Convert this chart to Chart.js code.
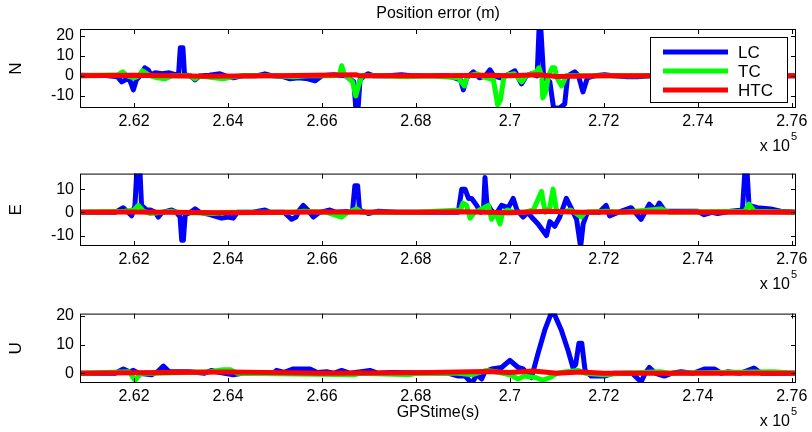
<!DOCTYPE html>
<html>
<head>
<meta charset="utf-8">
<script src="https://cdn.jsdelivr.net/npm/chart.js@4.4.1/dist/chart.umd.min.js"></script>
<style>
body { margin: 0; background: #fff; }
#wrap { position: relative; width: 812px; height: 432px; }
canvas { position: absolute; left: 0; }
</style>
</head>
<body>
<div id="wrap">
<canvas id="chartN" width="812" height="158" style="top:0px"></canvas>
<canvas id="chartE" width="812" height="140" style="top:158px"></canvas>
<canvas id="chartU" width="812" height="134" style="top:298px"></canvas>
</div>
<script>
// GPS time (s) / error (m) pairs
var seriesNames = ["LC", "TC", "HTC"];
var seriesColors = ["#0000ff", "#00ff00", "#ff0000"];
var xTicks = [262000, 264000, 266000, 268000, 270000, 272000, 274000, 276000];
var nTicks = [-10, 0, 10, 20];
var eTicks = [-10, 0, 10];
var uTicks = [0, 10, 20];

var nLC = [[260850,0.3],[261400,0.2],[261650,-0.5],[261738,-3],[261820,-2],[261900,-1.5],[261986,-7],[262050,-2],[262150,0.5],[262230,4],[262300,3],[262360,0.5],[262450,1.5],[262600,1],[262750,1.5],[262900,0.5],[262950,1.5],[262985,14],[263040,14],[263075,0.5],[263200,0],[263298,-2],[263400,0],[263600,0.3],[263830,1],[263950,0],[264113,-1],[264300,0],[264600,0],[264787,1],[264950,0],[265150,-0.3],[265319,-1.5],[265500,-1],[265700,-1.5],[265851,-2.5],[266000,0],[266250,0.5],[266500,0],[266680,-3],[266720,-16],[266770,-16],[266810,-2],[266900,0],[266985,1],[267100,0],[267400,0],[267695,0.5],[267900,0],[268700,0],[268950,-2],[269010,-7],[269080,-1],[269222,2],[269350,-1],[269480,0],[269576,3],[269660,0],[269800,-1],[269950,0.5],[270106,2.5],[270247,-4],[270350,0],[270460,1],[270580,0],[270620,23],[270660,23],[270720,-1],[270850,-3],[270930,-16],[271061,-16],[271167,-14],[271230,0],[271379,2],[271460,0],[271555,-8],[271650,-1],[271800,0],[272015,0.5],[272200,0],[272500,-0.5],[272722,-0.5],[273000,0],[274000,0],[276090,0]];
var nTC = [[260850,0],[261650,0.5],[261760,2],[261850,0],[262000,-1],[262100,0],[262180,2.5],[262280,1],[262350,0],[262500,-1],[262650,-1.5],[262800,0],[263200,0],[263298,-1.5],[263400,0],[263700,-1],[263900,-1.5],[264100,-0.5],[264300,0],[265000,0],[265400,-0.5],[265700,0],[266250,0],[266380,1],[266419,5],[266470,1],[266650,-3],[266720,-10],[266790,-4],[266850,0],[267200,0],[267800,-0.5],[268300,0],[268900,-1],[269030,-5],[269100,0],[269300,1],[269500,-1],[269650,-2],[269740,-14.5],[269800,-12],[269870,-1],[269950,0.5],[270100,1],[270250,-3],[270350,0],[270560,2],[270620,4],[270680,0],[270700,-11],[270760,-8],[270820,0],[270900,4],[270954,4],[271000,-1],[271100,-5],[271200,0],[271400,0],[272200,0],[276090,0]];
var nHTC = [[260850,0],[262000,0.3],[263500,-0.2],[265000,0],[266720,0.6],[266800,0],[268500,0],[269500,0.3],[270000,0],[270600,0.5],[271000,-0.3],[272000,0],[276090,0]];

var eLC = [[260850,0],[261600,0],[261772,2],[261850,0.5],[261950,-1.5],[262020,3],[262057,17],[262128,17],[262160,3],[262270,1],[262350,1],[262450,0],[262518,-2],[262600,0],[262802,1],[262900,0],[262980,-2],[263015,-12],[263050,-12],[263090,-1],[263200,0],[263298,1.5],[263400,0],[263617,-1],[263700,-1.5],[263865,-2.5],[264000,-2],[264113,-2.5],[264200,0],[264500,0],[264787,1],[264900,0],[265200,0],[265300,-2],[265355,-3],[265450,-2],[265520,1],[265603,3],[265700,1],[265816,-2],[265950,0],[266170,1],[266300,0],[266650,0.5],[266700,11.5],[266760,11.5],[266800,1],[266985,-0.5],[267200,0.5],[267600,0],[268900,0],[268975,10],[269046,10],[269120,6],[269187,6],[269293,3],[269380,0],[269440,2],[269470,15],[269510,4],[269600,1],[269700,-1],[269823,3],[269965,2],[270071,6],[270150,1],[270283,-2],[270380,0],[270460,-2],[270600,-5],[270778,-10],[270850,-4],[270954,-6],[271061,-2],[271202,6],[271300,2],[271420,-3],[271506,-15],[271560,-5],[271650,0],[271900,0],[272050,3],[272121,-1.5],[272300,0],[272581,2],[272793,-3],[272969,3.5],[273100,1],[273182,4],[273300,0.5],[273995,0.5],[274136,-1],[274300,0],[274419,-0.5],[274702,0.5],[274950,1],[275000,17],[275050,17],[275090,3],[275267,2],[275550,1.5],[275762,0.5],[276090,0]];
var eTC = [[260850,0],[261800,0.5],[262000,1],[262090,3],[262200,0.5],[262350,-0.5],[262800,0.5],[262900,0],[263700,-0.5],[264000,0],[265400,0],[265600,0.5],[266100,0],[266419,-2],[266550,0],[266738,1.5],[266850,0],[268000,0],[268950,1],[269000,4],[269080,3],[269152,-2.5],[269250,0],[269540,3],[269611,-3],[269700,0],[269788,-5],[269850,0],[269950,1],[270100,0],[270300,0],[270500,1],[270672,9],[270750,0],[270850,2],[270919,10],[270990,1],[271100,0],[271300,1],[271520,-2],[271600,0],[272050,0.5],[272400,0],[273217,1.5],[273400,0],[275000,0.5],[275090,3.5],[275200,0.5],[276090,0]];
var eHTC = [[260850,0],[262000,0.2],[264000,-0.2],[266000,0.2],[268000,0],[269000,0.3],[270000,-0.2],[270800,0.5],[271500,0],[273000,0.2],[275000,0],[276090,0]];

var uLC = [[260850,0],[261600,0],[261772,1.5],[261900,0.5],[261986,1],[262100,0],[262376,-0.5],[262500,0.5],[262624,2.5],[262750,0.5],[263192,0.5],[263500,0],[263652,1],[263800,0.3],[264113,-0.5],[264300,0],[264965,0],[265035,1],[265200,0.3],[265390,1.5],[265745,1.5],[265900,0.3],[266099,0.5],[266250,0],[266419,1],[266600,0],[267021,1],[267200,0],[267447,0.3],[268700,0],[268904,-1],[269050,-1],[269187,-3.5],[269300,-0.5],[269399,-2],[269470,0.5],[269611,1.5],[269823,2],[270000,4.5],[270177,2],[270283,1.5],[270460,-1.5],[270601,7],[270742,15],[270870,20.5],[270950,20.5],[271096,15],[271237,8],[271343,2],[271400,3],[271470,10.5],[271530,10.5],[271600,1],[271732,-1],[272015,-1],[272200,0],[272600,0],[272793,-3],[272880,0],[272969,2],[273100,0],[273288,-1],[273450,0],[273641,0.5],[273900,0],[274150,1.5],[274350,1.5],[274500,0],[274631,0.5],[274900,0],[275196,1.8],[275350,0],[276090,0]];
var uTC = [[260850,0],[261900,0.5],[262021,-2.5],[262150,0],[262500,0],[263600,0.5],[263900,1.2],[264050,1.2],[264200,0],[266702,-0.5],[266800,0],[267872,-0.5],[268000,0],[268900,0],[269200,-0.5],[269500,1],[269700,0.5],[270000,-0.5],[270177,-2],[270300,-1],[270550,-1.5],[270700,-2.5],[270850,-1.5],[271000,0],[271200,0.5],[271450,1],[271600,0],[272000,-0.5],[272400,0],[273200,0.5],[273400,0],[275600,0.5],[276090,0]];
var uHTC = [[260850,0],[262000,0.2],[264000,0.4],[266000,0],[268000,0.2],[269500,0.6],[270000,0.3],[270500,0.8],[271000,0],[271500,0.4],[272000,0],[274000,0],[276090,0]];

var fontFam = "'Liberation Sans', Arial, sans-serif";
Chart.defaults.font.family = fontFam;
Chart.defaults.color = "#000";

// matlab style box, inward ticks, title over the axes, exponent label and legend
var matlabAxes = {
    id: 'matlabAxes',
    afterDraw: function (chart, args, opts) {
        var ctx = chart.ctx, a = chart.chartArea;
        var xs = chart.scales.x, ys = chart.scales.y;
        ctx.save();
        ctx.strokeStyle = "#000";
        ctx.lineWidth = 1;
        ctx.strokeRect(a.left + 0.5, a.top + 0.5, a.right - a.left - 1, a.bottom - a.top - 1);
        ctx.beginPath();
        xs.ticks.forEach(function (t) {
            var px = Math.round(xs.getPixelForValue(t.value)) + 0.5;
            ctx.moveTo(px, a.top); ctx.lineTo(px, a.top + 5);
            ctx.moveTo(px, a.bottom); ctx.lineTo(px, a.bottom - 5);
        });
        ys.ticks.forEach(function (t) {
            var py = Math.round(ys.getPixelForValue(t.value)) + 0.5;
            ctx.moveTo(a.left, py); ctx.lineTo(a.left + 5, py);
            ctx.moveTo(a.right, py); ctx.lineTo(a.right - 5, py);
        });
        ctx.stroke();
        ctx.fillStyle = "#000";
        ctx.textBaseline = "middle";
        if (opts.title) {
            ctx.textAlign = "center";
            ctx.font = "16px " + fontFam;
            ctx.fillText(opts.title, (a.left + a.right) / 2, a.top - 15);
        }
        ctx.textAlign = "right";
        ctx.font = "16px " + fontFam;
        ctx.fillText("x 10", a.right - 6, a.bottom + 39);
        ctx.textAlign = "left";
        ctx.font = "11px " + fontFam;
        ctx.fillText("5", a.right - 5, a.bottom + 29);

        if (opts.legend) {
            var lx = a.right - 146, ly = a.top + 8, lw = 137, lh = 65;
            ctx.fillStyle = "#fff";
            ctx.fillRect(lx, ly, lw, lh);
            ctx.strokeRect(lx + 0.5, ly + 0.5, lw, lh);
            ctx.font = "17px " + fontFam;
            chart.data.datasets.forEach(function (ds, i) {
                var yy = ly + 15 + i * 19;
                ctx.strokeStyle = ds.borderColor;
                ctx.lineWidth = 5;
                ctx.beginPath();
                ctx.moveTo(lx + 13, yy); ctx.lineTo(lx + 78, yy);
                ctx.stroke();
                ctx.fillStyle = "#000";
                ctx.fillText(ds.label, lx + 88, yy + 1);
            });
        }
        ctx.restore();
    }
};

function toPoints(arr) {
    return arr.map(function (p) { return { x: p[0], y: p[1] }; });
}

function makeChart(id, series, yMin, yMax, yTicks, yName, cfg) {
    var datasets = [];
    series.forEach(function (s, i) {
        datasets.push({
            label: seriesNames[i],
            data: toPoints(s),
            borderColor: seriesColors[i],
            backgroundColor: seriesColors[i],
            borderWidth: 5,
            pointRadius: 0,
            tension: 0,
            borderJoinStyle: 'round',
            borderCapStyle: 'round',
            clip: 0,
            order: 3 - i
        });
    });
    return new Chart(document.getElementById(id), {
        type: 'line',
        data: { datasets: datasets },
        plugins: [matlabAxes],
        options: {
            responsive: false,
            animation: false,
            events: [],
            layout: { padding: { left: 0, right: 16, top: cfg.top, bottom: 0 } },
            plugins: {
                legend: { display: false },
                tooltip: { enabled: false },
                matlabAxes: { legend: !!cfg.legend, title: cfg.title || "" }
            },
            scales: {
                x: {
                    type: 'linear',
                    min: 260850,
                    max: 276090,
                    grid: { display: false, drawTicks: false },
                    border: { display: false },
                    afterBuildTicks: function (s) { s.ticks = xTicks.map(function (v) { return { value: v }; }); },
                    afterFit: function (s) { s.height = cfg.xh; },
                    ticks: {
                        autoSkip: false,
                        maxRotation: 0,
                        padding: 4,
                        font: { size: 16 },
                        callback: function (v) { return String(Number((v / 1e5).toFixed(2))); }
                    },
                    title: cfg.xName ? {
                        display: true,
                        text: cfg.xName,
                        font: { size: 16 },
                        padding: { top: 0, bottom: 10 }
                    } : { display: false }
                },
                y: {
                    min: yMin,
                    max: yMax,
                    grid: { display: false, drawTicks: false },
                    border: { display: false },
                    afterBuildTicks: function (s) { s.ticks = yTicks.map(function (v) { return { value: v }; }); },
                    afterFit: function (s) { s.width = 80; },
                    ticks: { padding: 6, font: { size: 16 } },
                    title: {
                        display: true,
                        text: yName,
                        font: { size: 17 },
                        padding: { top: 6, bottom: 0 }
                    }
                }
            }
        }
    });
}

makeChart('chartN', [nLC, nTC, nHTC], -16, 23.3, nTicks, 'N', { top: 29, xh: 50, title: 'Position error (m)', legend: true });
makeChart('chartE', [eLC, eTC, eHTC], -14.5, 16.7, eTicks, 'E', { top: 9, xh: 52 });
makeChart('chartU', [uLC, uTC, uHTC], -3.4, 20.8, uTicks, 'U', { top: 7, xh: 49, xName: 'GPStime(s)' });
</script>
</body>
</html>
